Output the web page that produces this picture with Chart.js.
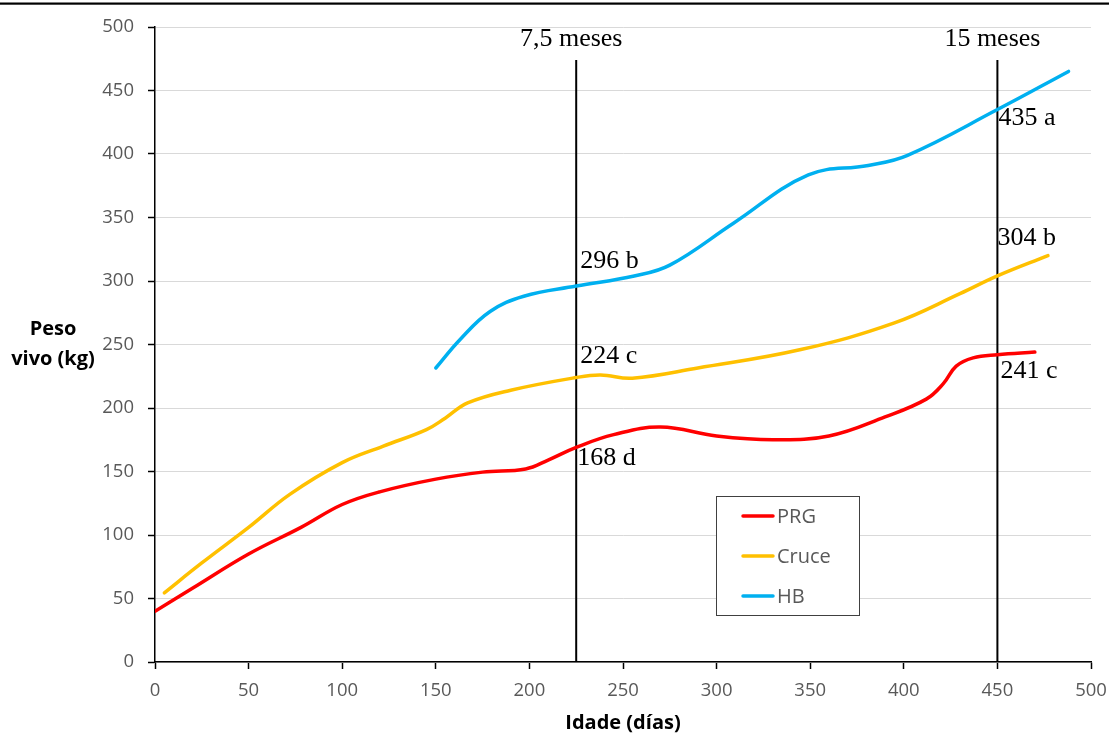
<!DOCTYPE html>
<html><head><meta charset="utf-8">
<script src="https://cdn.jsdelivr.net/npm/chart.js@4/dist/chart.umd.min.js"></script>
<style>html,body{margin:0;padding:0;background:#fff;overflow:hidden}#wrap{width:1109px;height:736px}</style>
</head><body><div id="wrap"><canvas id="c" width="1109" height="736"></canvas></div>
<script>
// ---- data ----
const seriesNames = ['PRG', 'Cruce', 'HB'];
const seriesColors = ['#FF0000', '#FFC000', '#00B0F0'];
const prgDays   = [0, 20, 50, 78, 100, 120, 150, 175, 198, 210, 225, 245, 270, 300, 330, 360, 390, 412, 421, 428, 437, 450, 470];
const prgWeight = [40, 58, 85, 106, 124, 134, 144, 149.5, 152, 159, 169, 179, 185, 178, 175, 178, 193, 207, 219, 233, 239.5, 242, 244];
const cruceDays   = [5, 25, 50, 72, 100, 122, 145, 155, 167, 190, 225, 238, 255, 290, 345, 395, 430, 450, 477];
const cruceWeight = [54.5, 78, 106, 132, 157, 170, 183, 192, 204, 214, 224, 226, 223.5, 231.5, 246, 267, 290, 304, 320];
const hbDays   = [150, 163, 179, 197, 225, 256, 275, 309, 349, 381, 402, 450, 488];
const hbWeight = [231.5, 254, 276, 288, 296, 304, 312.5, 345.5, 383.5, 391, 399, 435, 465];
const markerDays = [225, 450];
const markerTexts = ['7,5 meses', '15 meses'];
const markerTopValue = 474;
const xTicks = [0, 50, 100, 150, 200, 250, 300, 350, 400, 450, 500];
const yTicks = [0, 50, 100, 150, 200, 250, 300, 350, 400, 450, 500];
const noteDays   = [225, 225, 225, 450, 450, 450];
const noteValues = [296, 224, 168, 435, 304, 241];
const noteLetters = ['b', 'c', 'd', 'a', 'b', 'c'];
const xTitle = 'Idade (días)';
const yTitleLines = ['Peso', 'vivo (kg)'];

// ---- presentation ----
const noteDy = [-25, -21, 10, 9, -38, 15];
const noteDx = [4, 4, 1, 1, 0, 3];
const toPts = (xs, ys) => xs.map((x, i) => ({x: x, y: ys[i]}));
const seriesData = [toPts(prgDays, prgWeight), toPts(cruceDays, cruceWeight), toPts(hbDays, hbWeight)];

const datasets = seriesNames.map((n, i) => ({
  label: n, data: seriesData[i], showLine: true, borderColor: seriesColors[i],
  backgroundColor: seriesColors[i], borderWidth: 3.5, pointRadius: 0, tension: 0.4,
  borderCapStyle: 'round', fill: false, isSeries: true
}));
markerDays.forEach((d, i) => datasets.push({
  label: markerTexts[i], data: [{x: d, y: 0}, {x: d, y: markerTopValue}], showLine: true,
  borderColor: '#000', borderWidth: 2, pointRadius: 0, tension: 0, fill: false
}));

const tickFont = {family: "'Open Sans'", size: 18.5};

const overlay = {
  id: 'overlay',
  afterDraw(chart) {
    const ctx = chart.ctx, xs = chart.scales.x, ys = chart.scales.y, ca = chart.chartArea;
    ctx.save();
    ctx.fillStyle = '#000';
    ctx.fillRect(0, 2.5, chart.width, 2.2);
    ctx.font = "bold 20px 'Open Sans'";
    ctx.textAlign = 'center'; ctx.textBaseline = 'middle';
    const cy = (ca.top + ca.bottom) / 2;
    yTitleLines.forEach((t, i) => ctx.fillText(t, 53, cy - 15 + i * 30));
    ctx.fillText(xTitle, (ca.left + ca.right) / 2, 723);
    ctx.font = "26px 'Liberation Serif'";
    markerDays.forEach((d, i) => ctx.fillText(markerTexts[i], xs.getPixelForValue(d) - 5, ca.top + 12));
    ctx.textAlign = 'left';
    noteDays.forEach((d, i) => {
      ctx.fillText(noteValues[i] + ' ' + noteLetters[i], xs.getPixelForValue(d) + noteDx[i], ys.getPixelForValue(noteValues[i]) + noteDy[i]);
    });
    const lx = 716.5, ly = 496.5, lw = 143, lh = 119;
    ctx.fillStyle = '#fff'; ctx.fillRect(lx, ly, lw, lh);
    ctx.strokeStyle = '#404040'; ctx.lineWidth = 1; ctx.strokeRect(lx, ly, lw, lh);
    ctx.font = "20px 'Open Sans'"; ctx.textBaseline = 'middle';
    chart.data.datasets.filter(d => d.isSeries).forEach((d, i) => {
      const y = 516 + i * 40;
      ctx.strokeStyle = d.borderColor; ctx.lineWidth = 3.5; ctx.lineCap = 'round';
      ctx.beginPath(); ctx.moveTo(743, y); ctx.lineTo(773, y); ctx.stroke();
      ctx.fillStyle = '#595959'; ctx.fillText(d.label, 777, y + 1);
    });
    ctx.restore();
  }
};

new Chart(document.getElementById('c'), {
  type: 'scatter',
  data: {datasets: datasets},
  options: {
    responsive: false, animation: false, devicePixelRatio: 1,
    layout: {padding: {top: 27, right: 18, bottom: 0, left: 0}},
    plugins: {legend: {display: false}, tooltip: {enabled: false}},
    scales: {
      x: {
        type: 'linear', min: 0, max: 500,
        afterBuildTicks: s => { s.ticks = xTicks.map(v => ({value: v})); },
        afterFit: s => { s.height = 74; s.paddingRight = 0; s.paddingLeft = 0; },
        ticks: {font: tickFont, color: '#595959', padding: 11, maxRotation: 0},
        grid: {drawOnChartArea: false, drawTicks: true, tickLength: 7, tickColor: '#000', tickWidth: 1.5},
        border: {color: '#000', width: 1.5}
      },
      y: {
        type: 'linear', min: 0, max: 500,
        afterBuildTicks: s => { s.ticks = yTicks.map(v => ({value: v})); },
        afterFit: s => { s.width = 155; s.paddingTop = 0; s.paddingBottom = 0; },
        ticks: {font: tickFont, color: '#595959', padding: 14},
        grid: {color: '#d9d9d9', lineWidth: 1, tickLength: 7, tickColor: '#000', tickWidth: 1.5},
        border: {color: '#000', width: 1.5}
      }
    }
  },
  plugins: [overlay]
});
</script></body></html>
